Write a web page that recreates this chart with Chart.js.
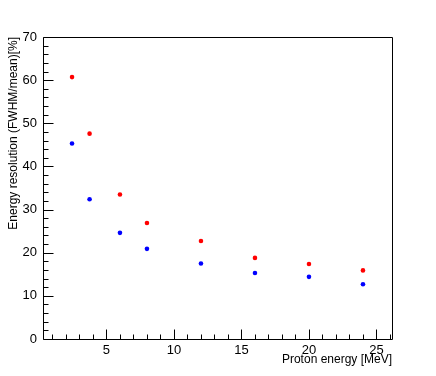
<!DOCTYPE html>
<html>
<head>
<meta charset="utf-8">
<script src="https://cdn.jsdelivr.net/npm/chart.js@4/dist/chart.umd.min.js"></script>
<style>
html,body{margin:0;padding:0;background:#fff;}
#wrap{width:436px;height:376px;}
</style>
</head>
<body>
<div id="wrap"><canvas id="c" width="436" height="376"></canvas></div>
<script>
// Data
const protonEnergy = [2.45, 3.75, 6, 8, 12, 16, 20, 24];
const resolutionRed = [60.7, 47.6, 33.5, 26.9, 22.7, 18.8, 17.4, 15.9];
const resolutionBlue = [45.3, 32.4, 24.6, 20.9, 17.5, 15.3, 14.4, 12.7];
const xTickLabels = [5, 10, 15, 20, 25];
const yTickLabels = [0, 10, 20, 30, 40, 50, 60, 70];
const xMinorTicks = [1,2,3,4,6,7,8,9,11,12,13,14,16,17,18,19,21,22,23,24,26];
const yMinorTicks = [2,4,6,8,12,14,16,18,22,24,26,28,32,34,36,38,42,44,46,48,52,54,56,58,62,64,66,68];

const toPts = (xs, ys) => xs.map((x, i) => ({x: x, y: ys[i]}));

const FONT = "'Liberation Sans', Arial, Helvetica, sans-serif";

const framePlugin = {
  id: 'rootFrame',
  afterDatasetsDraw(chart) {
    const ctx = chart.ctx;
    const a = chart.chartArea;
    const xs = chart.scales.x, ys = chart.scales.y;
    ctx.save();
    ctx.strokeStyle = '#000';
    ctx.lineWidth = 1;
    ctx.beginPath();
    ctx.rect(Math.round(a.left) + 0.5, Math.round(a.top) + 0.5,
             Math.round(a.right - a.left), Math.round(a.bottom - a.top));
    ctx.stroke();
    ctx.beginPath();
    const yb = Math.round(a.bottom) + 0.5;
    xTickLabels.forEach(v => {
      const px = Math.round(xs.getPixelForValue(v)) + 0.5;
      ctx.moveTo(px, yb); ctx.lineTo(px, yb - 10);
    });
    xMinorTicks.forEach(v => {
      const px = Math.round(xs.getPixelForValue(v)) + 0.5;
      ctx.moveTo(px, yb); ctx.lineTo(px, yb - 5);
    });
    const xl = Math.round(a.left) + 0.5;
    yTickLabels.forEach(v => {
      const py = Math.round(ys.getPixelForValue(v)) + 0.5;
      ctx.moveTo(xl, py); ctx.lineTo(xl + 10, py);
    });
    yMinorTicks.forEach(v => {
      const py = Math.round(ys.getPixelForValue(v)) + 0.5;
      ctx.moveTo(xl, py); ctx.lineTo(xl + 5, py);
    });
    ctx.stroke();
    ctx.restore();
  }
};

new Chart(document.getElementById('c'), {
  type: 'scatter',
  data: {
    datasets: [
      {
        label: 'red',
        data: toPts(protonEnergy, resolutionRed),
        backgroundColor: '#ff0000',
        borderColor: '#ff0000',
        pointRadius: 2.3,
        borderWidth: 0
      },
      {
        label: 'blue',
        data: toPts(protonEnergy, resolutionBlue),
        backgroundColor: '#0000ff',
        borderColor: '#0000ff',
        pointRadius: 2.3,
        borderWidth: 0
      }
    ]
  },
  options: {
    responsive: false,
    animation: false,
    devicePixelRatio: 1,
    layout: { padding: { top: 37, right: 44, left: 0, bottom: 0 } },
    plugins: {
      legend: { display: false },
      tooltip: { enabled: false }
    },
    scales: {
      x: {
        type: 'linear',
        min: 0.3,
        max: 26.15,
        grid: { display: false, drawTicks: false },
        border: { display: false },
        afterBuildTicks: s => { s.ticks = xTickLabels.map(v => ({value: v})); },
        afterFit: s => { s.height = 37; },
        ticks: {
          padding: 4,
          color: '#000',
          maxRotation: 0,
          autoSkip: false,
          font: { family: FONT, size: 13 }
        },
        title: {
          display: true,
          text: 'Proton energy [MeV]',
          align: 'end',
          color: '#000',
          font: { family: FONT, size: 12 },
          padding: { top: 0, bottom: 9 }
        }
      },
      y: {
        type: 'linear',
        min: 0,
        max: 70,
        grid: { display: false, drawTicks: false },
        border: { display: false },
        afterBuildTicks: s => { s.ticks = yTickLabels.map(v => ({value: v})); },
        afterFit: s => { s.width = 43; },
        ticks: {
          padding: 6,
          color: '#000',
          autoSkip: false,
          font: { family: FONT, size: 13 }
        },
        title: {
          display: true,
          text: 'Energy resolution (FWHM/mean)[%]',
          align: 'end',
          color: '#000',
          font: { family: FONT, size: 12 },
          padding: { top: 6, bottom: 0 }
        }
      }
    }
  },
  plugins: [framePlugin]
});
</script>
</body>
</html>
